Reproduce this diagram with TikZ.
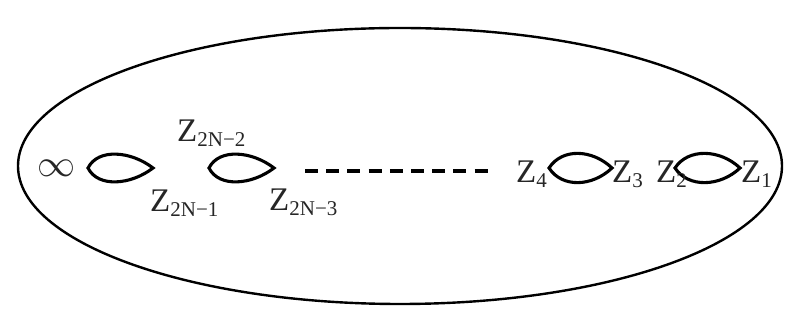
\RequirePackage{fix-cm}
\documentclass[tikz,border=0pt]{standalone}
\usepackage{fontspec}
\setmainfont{Liberation Serif}
\newcommand\lo[1]{\raisebox{-5pt}{\fontsize{21}{21}\selectfont #1}}
\begin{document}
\begin{tikzpicture}[x=1pt,y=1pt,
  rim/.style={line width=2.4pt},
  lensline/.style={line width=3.1pt,line join=miter},
  dots/.style={line width=3.6pt,dash pattern=on 13pt off 8.2pt},
  zlab/.style={anchor=base west,inner sep=0pt,text=black!85,font=\fontsize{33}{33}\selectfont}]
\useasboundingbox (0,0) rectangle (796,334);
\fill[white] (0,0) rectangle (796,334);
% outer ellipse
\coordinate (c) at (400,168);
\draw[rim] (c) ellipse [x radius=382, y radius=138];
% lenses
\coordinate (a1) at (88,166);  \coordinate (b1) at (153,166);
\coordinate (a2) at (209,166); \coordinate (b2) at (274,166);
\coordinate (a3) at (549,166); \coordinate (b3) at (612,166);
\coordinate (a4) at (675,166); \coordinate (b4) at (740,166);
\draw[lensline] (a1) .. controls +(10,20) and +(-22,17) .. (b1) .. controls +(-22,-17) and +(10,-20) .. (a1) -- cycle;
\draw[lensline] (a2) .. controls +(10,20) and +(-22,17) .. (b2) .. controls +(-22,-17) and +(10,-20) .. (a2) -- cycle;
\draw[lensline] (a3) .. controls +(13,20) and +(-20,19) .. (b3) .. controls +(-20,-19) and +(13,-20) .. (a3) -- cycle;
\draw[lensline] (a4) .. controls +(13,20) and +(-20,19) .. (b4) .. controls +(-20,-19) and +(13,-20) .. (a4) -- cycle;
% dashed line
\coordinate (d1) at (305,163); \coordinate (d2) at (489,163);
\draw[dots] (d1) -- (d2);
% labels
\node[anchor=center,inner sep=0pt,text=black!85,font=\fontsize{38}{38}\selectfont] (inf) at (57,166) {$\infty$};
\node[zlab] (z2n2) at (177,192) {Z\lo{2N−2}};
\node[zlab] (z2n1) at (150,122) {Z\lo{2N−1}};
\node[zlab] (z2n3) at (269,123) {Z\lo{2N−3}};
\node[zlab] (z4) at (516,151) {Z\lo{4}};
\node[zlab] (z3) at (612,151) {Z\lo{3}};
\node[zlab] (z2) at (656,151) {Z\lo{2}};
\node[zlab] (z1) at (741,151) {Z\lo{1}};
\end{tikzpicture}
\end{document}
